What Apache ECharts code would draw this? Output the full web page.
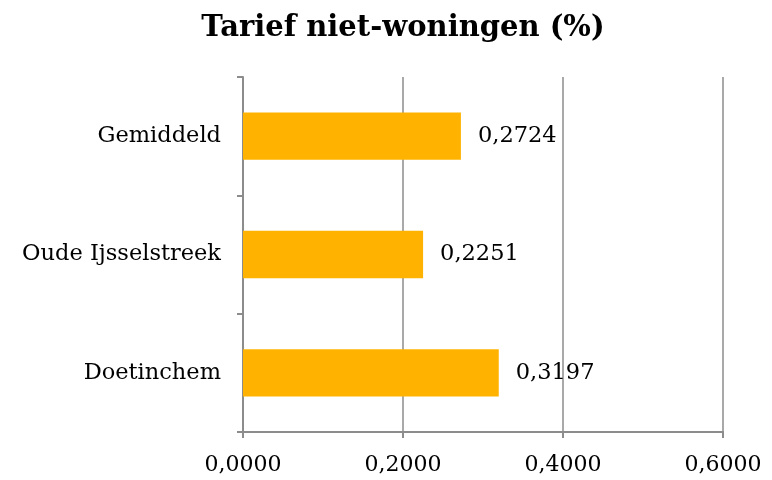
<!DOCTYPE html>
<html>
<head>
<meta charset="utf-8">
<script src="https://cdn.jsdelivr.net/npm/echarts@6/dist/echarts.min.js"></script>
<style>
  html, body { margin: 0; padding: 0; background: #fff; }
  #chart { width: 772px; height: 480px; }
</style>
</head>
<body>
<div id="chart"></div>
<script>
// Categories listed bottom to top
const categories = ['Doetinchem', 'Oude Ijsselstreek', 'Gemiddeld'];
const tarief = [0.3197, 0.2251, 0.2724];
const xTicks = [0, 0.2, 0.4, 0.6];

const serif = '"DejaVu Serif", Georgia, serif';
const gray = '#8c8c8c';
const fmt = v => v.toFixed(4).replace('.', ',');

const chart = echarts.init(document.getElementById('chart'));
chart.setOption({
  backgroundColor: '#ffffff',
  animation: false,
  title: {
    text: 'Tarief niet-woningen (%)',
    left: 398,
    textAlign: 'center',
    top: 9,
    textStyle: { fontFamily: serif, fontWeight: 'bold', fontSize: 29, color: '#000' }
  },
  grid: { left: 243, right: 49, top: 77, bottom: 48, containLabel: false },
  xAxis: {
    type: 'value',
    min: xTicks[0],
    max: xTicks[xTicks.length - 1],
    interval: xTicks[1] - xTicks[0],
    axisLine: { show: true, lineStyle: { color: gray, width: 2 } },
    axisTick: { show: true, length: 6, lineStyle: { color: gray, width: 2 } },
    splitLine: { show: true, lineStyle: { color: gray, width: 1.5 } },
    axisLabel: {
      formatter: fmt,
      margin: 22,
      fontFamily: serif, fontSize: 22, color: '#000'
    }
  },
  yAxis: {
    type: 'category',
    data: categories,
    axisLine: { show: true, lineStyle: { color: gray, width: 2 } },
    axisTick: { show: true, length: 6, lineStyle: { color: gray, width: 2 } },
    axisLabel: { margin: 22, fontFamily: serif, fontSize: 22.5, color: '#000' }
  },
  series: [{
    type: 'bar',
    data: tarief,
    barWidth: '40%',
    itemStyle: { color: '#FFB300' },
    label: {
      show: true,
      position: 'right',
      distance: 17,
      formatter: p => fmt(p.value),
      fontFamily: serif, fontSize: 22.5, color: '#000'
    }
  }]
});
</script>
</body>
</html>
